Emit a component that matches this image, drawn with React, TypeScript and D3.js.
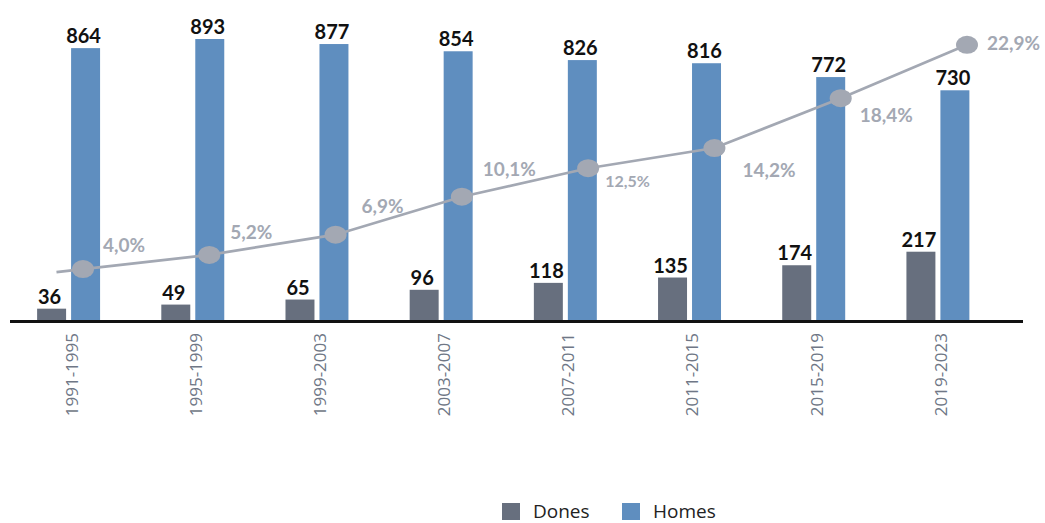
import React from "react";
import * as d3 from "d3";

const periods = [
  "1991-1995",
  "1995-1999",
  "1999-2003",
  "2003-2007",
  "2007-2011",
  "2011-2015",
  "2015-2019",
  "2019-2023",
];
const dones = [36, 49, 65, 96, 118, 135, 174, 217];
const homes = [864, 893, 877, 854, 826, 816, 772, 730];
const pctDones = [4.0, 5.2, 6.9, 10.1, 12.5, 14.2, 18.4, 22.9];
const pctLabels = ["4,0%", "5,2%", "6,9%", "10,1%", "12,5%", "14,2%", "18,4%", "22,9%"];
const seriesNames = ["Dones", "Homes"];

// label placement annotations (relative to each point)
const pctLabelDx = [20, 21, 26, 21, 17, 28, 19, 20];
const pctLabelDy = [-17, -16, -22, -21, 19, 29, 24, 5];
const pctLabelSize = [19, 19, 19, 19, 16, 19, 19, 19];

const W = 1045;
const H = 523;
const COLORS: Record<string, string> = { Dones: "#676f7e", Homes: "#5f8ebf" };
const LINE_COLOR = "#a3a8b3";

export default function App() {
  const x = d3
    .scaleBand<string>()
    .domain(periods)
    .range([6.5, 1000])
    .paddingInner(0.493)
    .paddingOuter(0.2465);
  const xSub = d3
    .scaleBand<string>()
    .domain(seriesNames)
    .range([0, x.bandwidth()])
    .paddingInner(5 / 34);
  const y = d3.scaleLinear().domain([0, 893]).range([320, 39]);
  const xLine = d3.scalePoint<string>().domain(periods).range([83, 967]);
  const yPct = d3.scaleLinear().domain([0, 25]).range([316.6, 19.85]);

  const pts: [number, number][] = periods.map((p, i) => [xLine(p)!, yPct(pctDones[i])]);
  const step = xLine.step();
  const ext = 0.21;
  const lead: [number, number] = [
    pts[0][0] - step * ext,
    pts[0][1] + (pts[0][1] - pts[1][1]) * ext,
  ];
  const linePath = d3.line()([lead, ...pts]) || "";

  const valueFont = "Lato, 'Open Sans', sans-serif";

  return (
    <svg
      width={W}
      height={H}
      style={{ position: "absolute", left: 0, top: 0, background: "#fff" }}
    >
      {periods.map((p, i) => {
        const gx = x(p)!;
        const vals = [dones[i], homes[i]];
        return (
          <g key={p}>
            {seriesNames.map((s, j) => {
              const bx = gx + xSub(s)!;
              const by = y(vals[j]);
              return (
                <g key={s}>
                  <rect
                    x={bx}
                    y={by}
                    width={xSub.bandwidth()}
                    height={y(0) - by}
                    fill={COLORS[s]}
                  />
                  <text
                    x={bx + xSub.bandwidth() / 2 - 2}
                    y={by - 5}
                    textAnchor="middle"
                    fontFamily={valueFont}
                    fontWeight={700}
                    fontSize={20}
                    fill="#111"
                  >
                    {vals[j]}
                  </text>
                </g>
              );
            })}
            <text
              transform={`translate(${gx + x.bandwidth() / 2 + 3},333) rotate(-90)`}
              textAnchor="end"
              dy="0.35em"
              fontFamily="'Open Sans', sans-serif"
              fontSize={17}
              fill="#6f7786"
            >
              {p}
            </text>
          </g>
        );
      })}

      <line x1={10} x2={1023} y1={321.5} y2={321.5} stroke="#111" strokeWidth={3} />

      <path d={linePath} fill="none" stroke={LINE_COLOR} strokeWidth={2.7} />
      {pts.map((pt, i) => (
        <g key={i}>
          <ellipse cx={pt[0]} cy={pt[1]} rx={11} ry={9} fill={LINE_COLOR} />
          <text
            x={pt[0] + pctLabelDx[i]}
            y={pt[1] + pctLabelDy[i]}
            fontFamily={valueFont}
            fontWeight={700}
            fontSize={pctLabelSize[i]}
            fill={LINE_COLOR}
          >
            {pctLabels[i]}
          </text>
        </g>
      ))}

      {seriesNames.map((s, j) => {
        const lx = j === 0 ? 502 : 622;
        return (
          <g key={s}>
            <rect x={lx} y={503} width={18} height={17} fill={COLORS[s]} />
            <text
              x={lx + 31}
              y={518}
              fontFamily="'Open Sans', sans-serif"
              fontSize={19}
              fill="#222"
            >
              {s}
            </text>
          </g>
        );
      })}
    </svg>
  );
}
